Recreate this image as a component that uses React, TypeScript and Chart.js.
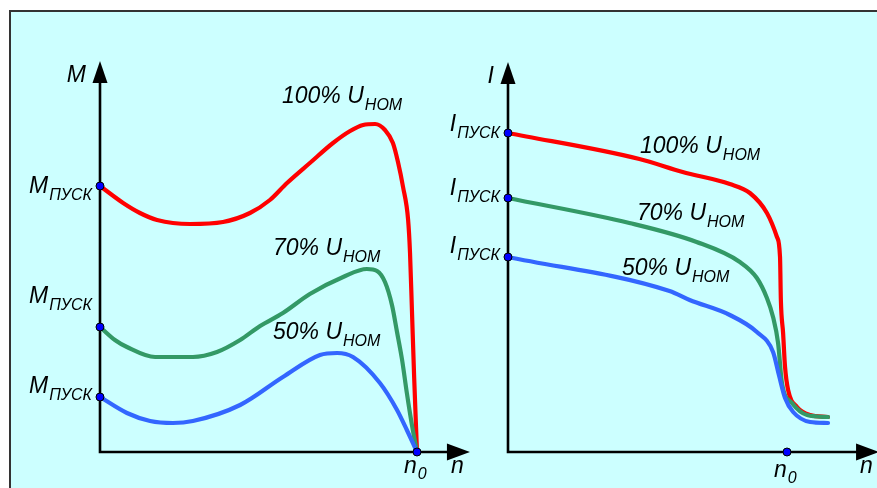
import React, { useEffect, useRef } from "react";
import { Chart, registerables } from "chart.js";

Chart.register(...registerables);

const W = 877;
const H = 488;

// ---- Left panel: torque M versus speed n (n0 = 1) ----
const nM100 = [0, 0.073, 0.126, 0.18, 0.284, 0.388, 0.473, 0.536, 0.59, 0.662, 0.735, 0.789, 0.83, 0.868, 0.899, 0.924, 0.94, 0.956, 0.972, 0.978, 0.984, 0.991, 1];
const m100 = [2.66, 2.49, 2.39, 2.32, 2.28, 2.3, 2.39, 2.52, 2.69, 2.89, 3.09, 3.21, 3.27, 3.28, 3.22, 3.09, 2.9, 2.65, 2.32, 1.99, 1.42, 0.75, 0];

const nM70 = [0, 0.047, 0.085, 0.174, 0.293, 0.369, 0.442, 0.505, 0.577, 0.662, 0.767, 0.842, 0.874, 0.899, 0.921, 0.937, 0.953, 0.968, 0.984, 1];
const m70 = [1.25, 1.12, 1.05, 0.95, 0.95, 1.0, 1.12, 1.26, 1.39, 1.58, 1.75, 1.83, 1.81, 1.7, 1.47, 1.2, 0.92, 0.59, 0.27, 0];

const nM50 = [0, 0.085, 0.158, 0.23, 0.293, 0.442, 0.577, 0.694, 0.748, 0.798, 0.883, 0.937, 0.968, 1];
const m50 = [0.55, 0.39, 0.31, 0.29, 0.31, 0.47, 0.75, 0.97, 0.99, 0.95, 0.69, 0.42, 0.22, 0];

// ---- Right panel: current I versus speed n (n0 = 1) ----
const nI100 = [0, 0.471, 0.626, 0.795, 0.867, 0.928, 0.964, 0.975, 0.978, 0.986, 0.993, 1.004, 1.036, 1.083, 1.147];
const i100 = [3.19, 2.93, 2.8, 2.68, 2.59, 2.39, 2.15, 1.95, 1.52, 1.19, 0.85, 0.62, 0.45, 0.37, 0.35];

const nI70 = [0, 0.435, 0.676, 0.831, 0.892, 0.928, 0.95, 0.968, 0.982, 1.018, 1.072, 1.147];
const i70 = [2.54, 2.29, 2.1, 1.9, 1.74, 1.54, 1.35, 1.09, 0.69, 0.49, 0.37, 0.35];

const nI50 = [0, 0.579, 0.651, 0.795, 0.892, 0.95, 0.971, 0.993, 1.022, 1.083, 1.147];
const i50 = [1.95, 1.61, 1.52, 1.37, 1.2, 1.0, 0.77, 0.54, 0.4, 0.3, 0.29];

const voltageLabels = ["100% U", "70% U", "50% U"];
const voltageSub = "НОМ";
const startSub = "ПУСК";
const n0Value = 1;

const RED = "#ff0000";
const GREEN = "#339966";
const BLUE = "#3366ff";

const MAIN_FONT = 'italic 23px "Liberation Sans", Arial, sans-serif';
const SUB_FONT = 'italic 16px "Liberation Sans", Arial, sans-serif';

function pts(xs: number[], ys: number[]) {
  return xs.map((x, i) => ({ x, y: ys[i] }));
}

function drawSub(ctx: CanvasRenderingContext2D, main: string, sub: string, x: number, base: number, alignRight = false, subDrop = 7) {
  ctx.font = MAIN_FONT;
  const wm = ctx.measureText(main).width;
  ctx.font = SUB_FONT;
  const ws = ctx.measureText(sub).width;
  const sx = alignRight ? x - ws - wm - 1 : x;
  ctx.textAlign = "left";
  ctx.textBaseline = "alphabetic";
  ctx.fillStyle = "#000";
  ctx.font = MAIN_FONT;
  ctx.fillText(main, sx, base);
  ctx.font = SUB_FONT;
  ctx.fillText(sub, sx + wm + 1, base + subDrop);
}

function dot(ctx: CanvasRenderingContext2D, x: number, y: number) {
  ctx.beginPath();
  ctx.arc(x, y, 4, 0, Math.PI * 2);
  ctx.fillStyle = "#0000ff";
  ctx.fill();
  ctx.lineWidth = 1;
  ctx.strokeStyle = "#000";
  ctx.stroke();
}

type PanelDecor = {
  xTip: number;
  yTip: number;
  yName: string;
  starts: number[];
  startMain: string;
  startLabelRight: number;
  startLabelBase: number[];
  curveLabelPos: number[][];
  nLabelBase: number;
  n0LabelBase: number;
};

function makeDecor(d: PanelDecor) {
  return {
    id: "decor",
    beforeDatasetsDraw(chart: any) {
      const ctx: CanvasRenderingContext2D = chart.ctx;
      const xs = chart.scales.x;
      const ys = chart.scales.y;
      const x0 = xs.getPixelForValue(0);
      const y0 = ys.getPixelForValue(0);
      const xt = xs.getPixelForValue(d.xTip);
      const yt = ys.getPixelForValue(d.yTip);
      ctx.save();
      ctx.strokeStyle = "#000";
      ctx.lineWidth = 2.6;
      ctx.lineCap = "square";
      ctx.beginPath();
      ctx.moveTo(x0, yt + 18);
      ctx.lineTo(x0, y0);
      ctx.lineTo(xt - 18, y0);
      ctx.stroke();
      ctx.fillStyle = "#000";
      ctx.beginPath();
      ctx.moveTo(x0, yt);
      ctx.lineTo(x0 - 7.5, yt + 22);
      ctx.lineTo(x0 + 7.5, yt + 22);
      ctx.closePath();
      ctx.fill();
      ctx.beginPath();
      ctx.moveTo(xt, y0);
      ctx.lineTo(xt - 23, y0 - 8.5);
      ctx.lineTo(xt - 23, y0 + 8.5);
      ctx.closePath();
      ctx.fill();
      ctx.restore();
    },
    afterDatasetsDraw(chart: any) {
      const ctx: CanvasRenderingContext2D = chart.ctx;
      const xs = chart.scales.x;
      const ys = chart.scales.y;
      const x0 = xs.getPixelForValue(0);
      const y0 = ys.getPixelForValue(0);
      const xt = xs.getPixelForValue(d.xTip);
      const yt = ys.getPixelForValue(d.yTip);
      const xn0 = xs.getPixelForValue(n0Value);
      ctx.save();
      d.starts.forEach((v) => dot(ctx, x0, ys.getPixelForValue(v)));
      dot(ctx, xn0, y0);
      ctx.fillStyle = "#000";
      ctx.font = MAIN_FONT;
      ctx.textAlign = "right";
      ctx.textBaseline = "alphabetic";
      ctx.fillText(d.yName, x0 - 14, yt + 21);
      ctx.textAlign = "left";
      ctx.fillText("n", xt - 19, d.nLabelBase);
      drawSub(ctx, "n", "0", xn0 - 13, d.n0LabelBase, false, 6);
      d.startLabelBase.forEach((b) => drawSub(ctx, d.startMain, startSub, d.startLabelRight, b, true, 7));
      d.curveLabelPos.forEach((p, i) => drawSub(ctx, voltageLabels[i], voltageSub, p[0], p[1], false, 7));
      ctx.restore();
    },
  };
}

function makeConfig(sets: { x: number[]; y: number[]; color: string }[], padding: any, xMax: number, yMax: number, decor: any): any {
  return {
    type: "line",
    data: {
      datasets: sets.map((s) => ({
        data: pts(s.x, s.y),
        borderColor: s.color,
        borderWidth: 4.2,
        pointRadius: 0,
        fill: false,
        cubicInterpolationMode: "monotone",
        borderJoinStyle: "round",
        borderCapStyle: "round",
        clip: false,
      })),
    },
    options: {
      responsive: false,
      animation: false,
      parsing: true,
      layout: { padding },
      plugins: { legend: { display: false }, tooltip: { enabled: false }, title: { display: false } },
      events: [],
      scales: {
        x: { type: "linear", min: 0, max: xMax, display: false },
        y: { type: "linear", min: 0, max: yMax, display: false },
      },
    },
    plugins: [decor],
  };
}

export default function App() {
  const leftRef = useRef<HTMLCanvasElement>(null);
  const rightRef = useRef<HTMLCanvasElement>(null);

  useEffect(() => {
    const left = new Chart(
      leftRef.current as HTMLCanvasElement,
      makeConfig(
        [
          { x: nM50, y: m50, color: BLUE },
          { x: nM70, y: m70, color: GREEN },
          { x: nM100, y: m100, color: RED },
        ],
        { left: 100, top: 52, right: W - (100 + 1.2 * 317), bottom: H - 452 },
        1.2,
        4,
        makeDecor({
          xTip: 1.167,
          yTip: 3.91,
          yName: "M",
          starts: [m100[0], m70[0], m50[0]],
          startMain: "M",
          startLabelRight: 92,
          startLabelBase: [193, 303, 393],
          curveLabelPos: [
            [282, 103],
            [273, 255],
            [273, 339],
          ],
          nLabelBase: 473,
          n0LabelBase: 473,
        })
      )
    );
    const right = new Chart(
      rightRef.current as HTMLCanvasElement,
      makeConfig(
        [
          { x: nI50, y: i50, color: BLUE },
          { x: nI70, y: i70, color: GREEN },
          { x: nI100, y: i100, color: RED },
        ],
        { left: 508, top: 52, right: W - (508 + 1.32 * 279), bottom: H - 452 },
        1.32,
        4,
        makeDecor({
          xTip: 1.33,
          yTip: 3.9,
          yName: "I",
          starts: [i100[0], i70[0], i50[0]],
          startMain: "I",
          startLabelRight: 500,
          startLabelBase: [131, 195, 253],
          curveLabelPos: [
            [640, 153],
            [637, 220],
            [622, 275],
          ],
          nLabelBase: 473,
          n0LabelBase: 477,
        })
      )
    );
    return () => {
      left.destroy();
      right.destroy();
    };
  }, []);

  const canvasStyle: React.CSSProperties = { position: "absolute", left: 0, top: 0, width: W, height: H };

  return (
    <div style={{ position: "fixed", left: 0, top: 0, width: W, height: H, background: "#fff", overflow: "hidden" }}>
      <div
        style={{
          position: "absolute",
          left: 9,
          top: 10,
          right: 0,
          bottom: 0,
          borderTop: "2px solid #333",
          borderLeft: "2px solid #333",
          background: "#ccffff",
        }}
      />
      <canvas ref={leftRef} width={W} height={H} style={canvasStyle} />
      <canvas ref={rightRef} width={W} height={H} style={canvasStyle} />
    </div>
  );
}
